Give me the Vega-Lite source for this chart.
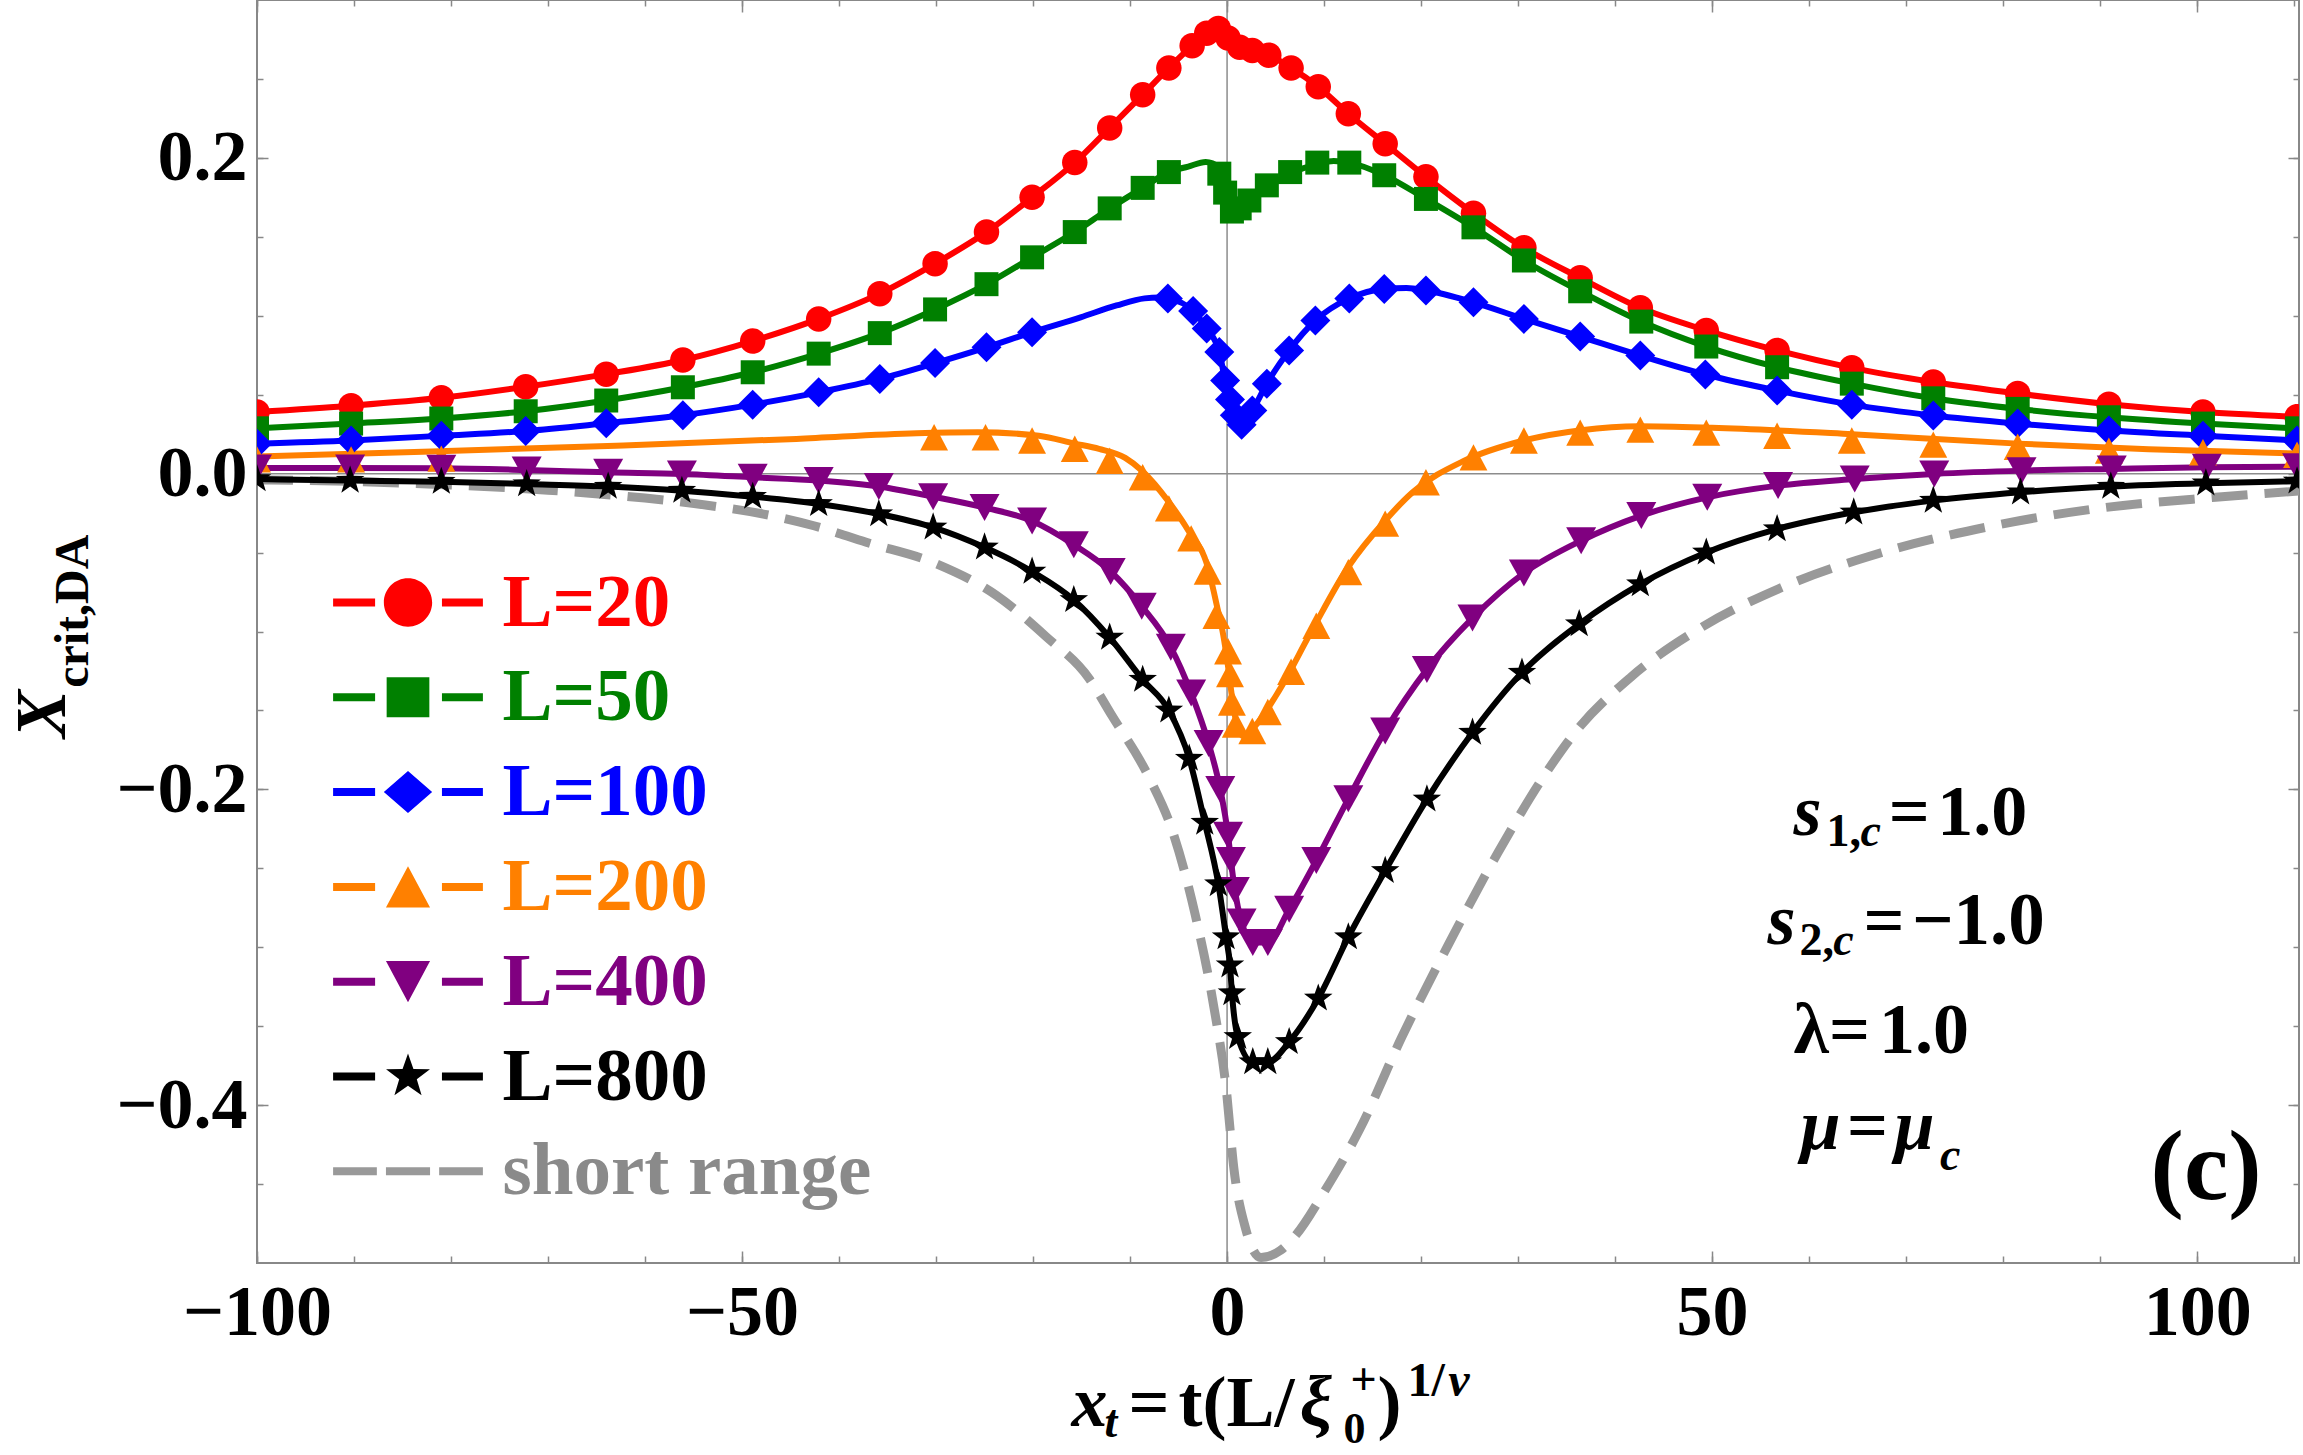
{
  "$schema": "https://vega.github.io/schema/vega-lite/v6.json",
  "width": 2042,
  "height": 1263,
  "autosize": "none",
  "padding": {"left": 257, "top": 0, "right": 4, "bottom": 192},
  "background": "white",
  "config": {"view": {"stroke": "#888888", "strokeWidth": 2}, "font": "Liberation Serif"},
  "datasets": {
    "curves": [
      {"s":"L=20","x":-100,"y":0.039},{"s":"L=20","x":-90.3,"y":0.043},{"s":"L=20","x":-81,"y":0.048},{"s":"L=20","x":-72.3,"y":0.055},{"s":"L=20","x":-64,"y":0.063},{"s":"L=20","x":-56.1,"y":0.072},{"s":"L=20","x":-48.9,"y":0.084},{"s":"L=20","x":-42.1,"y":0.098},{"s":"L=20","x":-35.8,"y":0.114},{"s":"L=20","x":-30.1,"y":0.133},{"s":"L=20","x":-24.8,"y":0.153},{"s":"L=20","x":-20.1,"y":0.175},{"s":"L=20","x":-15.7,"y":0.197},{"s":"L=20","x":-12.1,"y":0.219},{"s":"L=20","x":-8.7,"y":0.240},{"s":"L=20","x":-6.0,"y":0.257},{"s":"L=20","x":-3.6,"y":0.271},{"s":"L=20","x":-2.1,"y":0.279},{"s":"L=20","x":-0.9,"y":0.282},{"s":"L=20","x":0.1,"y":0.276},{"s":"L=20","x":1.3,"y":0.270},{"s":"L=20","x":2.6,"y":0.268},{"s":"L=20","x":4.3,"y":0.265},{"s":"L=20","x":6.6,"y":0.257},{"s":"L=20","x":9.4,"y":0.245},{"s":"L=20","x":12.5,"y":0.228},{"s":"L=20","x":16.3,"y":0.209},{"s":"L=20","x":20.5,"y":0.188},{"s":"L=20","x":25.4,"y":0.165},{"s":"L=20","x":30.6,"y":0.143},{"s":"L=20","x":36.4,"y":0.124},{"s":"L=20","x":42.6,"y":0.105},{"s":"L=20","x":49.4,"y":0.0907},{"s":"L=20","x":56.7,"y":0.078},{"s":"L=20","x":64.4,"y":0.067},{"s":"L=20","x":72.8,"y":0.058},{"s":"L=20","x":81.5,"y":0.0507},{"s":"L=20","x":90.9,"y":0.044},{"s":"L=20","x":100.6,"y":0.039},{"s":"L=20","x":110.3,"y":0.036},

      {"s":"L=50","x":-100,"y":0.0287},{"s":"L=50","x":-90.3,"y":0.0317},{"s":"L=50","x":-81,"y":0.0349},{"s":"L=50","x":-72.3,"y":0.0395},{"s":"L=50","x":-64,"y":0.0463},{"s":"L=50","x":-56.1,"y":0.0547},{"s":"L=50","x":-48.9,"y":0.0642},{"s":"L=50","x":-42.1,"y":0.076},{"s":"L=50","x":-35.8,"y":0.089},{"s":"L=50","x":-30.1,"y":0.104},{"s":"L=50","x":-24.8,"y":0.120},{"s":"L=50","x":-20.1,"y":0.137},{"s":"L=50","x":-15.7,"y":0.153},{"s":"L=50","x":-12.1,"y":0.168},{"s":"L=50","x":-8.7,"y":0.181},{"s":"L=50","x":-6.0,"y":0.191},{"s":"L=50","x":-4.0,"y":0.1945},{"s":"L=50","x":-2.2,"y":0.1974},{"s":"L=50","x":-0.8,"y":0.194},{"s":"L=50","x":-0.1,"y":0.181},{"s":"L=50","x":0.6,"y":0.165},{"s":"L=50","x":1.8,"y":0.170},{"s":"L=50","x":3.3,"y":0.177},{"s":"L=50","x":4.1,"y":0.181},{"s":"L=50","x":6.5,"y":0.190},{"s":"L=50","x":9.3,"y":0.196},{"s":"L=50","x":11,"y":0.198},{"s":"L=50","x":12.6,"y":0.197},{"s":"L=50","x":16.2,"y":0.189},{"s":"L=50","x":20.5,"y":0.174},{"s":"L=50","x":25.4,"y":0.156},{"s":"L=50","x":30.6,"y":0.135},{"s":"L=50","x":36.4,"y":0.1155},{"s":"L=50","x":42.7,"y":0.0963},{"s":"L=50","x":49.4,"y":0.0805},{"s":"L=50","x":56.7,"y":0.0674},{"s":"L=50","x":64.4,"y":0.057},{"s":"L=50","x":72.8,"y":0.0477},{"s":"L=50","x":81.5,"y":0.041},{"s":"L=50","x":90.9,"y":0.0357},{"s":"L=50","x":100.6,"y":0.0317},{"s":"L=50","x":110.3,"y":0.0287},

      {"s":"L=100","x":-100,"y":0.019},{"s":"L=100","x":-90.3,"y":0.021},{"s":"L=100","x":-81,"y":0.024},{"s":"L=100","x":-72.3,"y":0.027},{"s":"L=100","x":-64,"y":0.0319},{"s":"L=100","x":-56.1,"y":0.037},{"s":"L=100","x":-48.9,"y":0.0437},{"s":"L=100","x":-42.1,"y":0.0515},{"s":"L=100","x":-35.8,"y":0.060},{"s":"L=100","x":-30.1,"y":0.070},{"s":"L=100","x":-24.8,"y":0.080},{"s":"L=100","x":-20.1,"y":0.0896},{"s":"L=100","x":-15.1,"y":0.099},{"s":"L=100","x":-11.4,"y":0.1065},{"s":"L=100","x":-8.5,"y":0.111},{"s":"L=100","x":-7.0,"y":0.1115},{"s":"L=100","x":-6.1,"y":0.111},{"s":"L=100","x":-3.5,"y":0.103},{"s":"L=100","x":-2.1,"y":0.092},{"s":"L=100","x":-0.8,"y":0.077},{"s":"L=100","x":-0.2,"y":0.059},{"s":"L=100","x":0.3,"y":0.047},{"s":"L=100","x":0.8,"y":0.037},{"s":"L=100","x":1.4,"y":0.030},{"s":"L=100","x":2.6,"y":0.040},{"s":"L=100","x":4.1,"y":0.057},{"s":"L=100","x":6.4,"y":0.078},{"s":"L=100","x":9.1,"y":0.097},{"s":"L=100","x":12.6,"y":0.111},{"s":"L=100","x":16.2,"y":0.117},{"s":"L=100","x":18.5,"y":0.1175},{"s":"L=100","x":20.5,"y":0.116},{"s":"L=100","x":25.4,"y":0.1085},{"s":"L=100","x":30.6,"y":0.098},{"s":"L=100","x":36.4,"y":0.0868},{"s":"L=100","x":42.6,"y":0.0748},{"s":"L=100","x":49.3,"y":0.0628},{"s":"L=100","x":56.7,"y":0.0526},{"s":"L=100","x":64.4,"y":0.0437},{"s":"L=100","x":72.8,"y":0.0368},{"s":"L=100","x":81.5,"y":0.0317},{"s":"L=100","x":90.9,"y":0.0273},{"s":"L=100","x":100.6,"y":0.024},{"s":"L=100","x":110.3,"y":0.021},

      {"s":"L=200","x":-100,"y":0.0108},{"s":"L=200","x":-82,"y":0.014},{"s":"L=200","x":-63,"y":0.0177},{"s":"L=200","x":-44.4,"y":0.022},{"s":"L=200","x":-32,"y":0.0256},{"s":"L=200","x":-25.7,"y":0.0262},{"s":"L=200","x":-19.4,"y":0.024},{"s":"L=200","x":-15.7,"y":0.019},{"s":"L=200","x":-13.2,"y":0.0157},{"s":"L=200","x":-10.5,"y":0.010},{"s":"L=200","x":-8.8,"y":0.002},{"s":"L=200","x":-6.0,"y":-0.018},{"s":"L=200","x":-4.0,"y":-0.036},{"s":"L=200","x":-2.0,"y":-0.059},{"s":"L=200","x":-1.0,"y":-0.085},{"s":"L=200","x":-0.4,"y":-0.102},{"s":"L=200","x":0.1,"y":-0.122},{"s":"L=200","x":0.5,"y":-0.141},{"s":"L=200","x":0.9,"y":-0.156},{"s":"L=200","x":1.7,"y":-0.1665},{"s":"L=200","x":3.0,"y":-0.159},{"s":"L=200","x":5.4,"y":-0.137},{"s":"L=200","x":8.6,"y":-0.101},{"s":"L=200","x":12.5,"y":-0.059},{"s":"L=200","x":16.4,"y":-0.029},{"s":"L=200","x":19.1,"y":-0.012},{"s":"L=200","x":24.4,"y":0.008},{"s":"L=200","x":30.6,"y":0.021},{"s":"L=200","x":36.5,"y":0.0275},{"s":"L=200","x":42.5,"y":0.030},{"s":"L=200","x":50,"y":0.029},{"s":"L=200","x":64.4,"y":0.025},{"s":"L=200","x":81.5,"y":0.019},{"s":"L=200","x":95,"y":0.0155},{"s":"L=200","x":110.5,"y":0.0127},

      {"s":"L=400","x":-100,"y":0.0036},{"s":"L=400","x":-90.4,"y":0.0036},{"s":"L=400","x":-81,"y":0.0034},{"s":"L=400","x":-72.2,"y":0.0023},{"s":"L=400","x":-63.8,"y":0.0008},{"s":"L=400","x":-56.2,"y":-0.0002},{"s":"L=400","x":-48.9,"y":-0.0023},{"s":"L=400","x":-42.1,"y":-0.0044},{"s":"L=400","x":-35.9,"y":-0.0082},{"s":"L=400","x":-30.3,"y":-0.0146},{"s":"L=400","x":-25.0,"y":-0.0215},{"s":"L=400","x":-20.1,"y":-0.030},{"s":"L=400","x":-15.8,"y":-0.045},{"s":"L=400","x":-12.0,"y":-0.062},{"s":"L=400","x":-8.8,"y":-0.084},{"s":"L=400","x":-5.8,"y":-0.110},{"s":"L=400","x":-3.7,"y":-0.139},{"s":"L=400","x":-1.9,"y":-0.171},{"s":"L=400","x":-0.7,"y":-0.200},{"s":"L=400","x":0.1,"y":-0.229},{"s":"L=400","x":0.4,"y":-0.245},{"s":"L=400","x":0.8,"y":-0.264},{"s":"L=400","x":1.5,"y":-0.284},{"s":"L=400","x":2.65,"y":-0.297},{"s":"L=400","x":4.2,"y":-0.297},{"s":"L=400","x":6.4,"y":-0.276},{"s":"L=400","x":9.2,"y":-0.245},{"s":"L=400","x":12.5,"y":-0.206},{"s":"L=400","x":16.3,"y":-0.163},{"s":"L=400","x":20.6,"y":-0.124},{"s":"L=400","x":25.3,"y":-0.0915},{"s":"L=400","x":30.6,"y":-0.063},{"s":"L=400","x":36.5,"y":-0.0425},{"s":"L=400","x":42.7,"y":-0.0266},{"s":"L=400","x":49.5,"y":-0.015},{"s":"L=400","x":56.8,"y":-0.0076},{"s":"L=400","x":64.7,"y":-0.0034},{"s":"L=400","x":72.9,"y":-0.0002},{"s":"L=400","x":81.9,"y":0.0019},{"s":"L=400","x":91.2,"y":0.003},{"s":"L=400","x":101,"y":0.004},{"s":"L=400","x":110.3,"y":0.0044},

      {"s":"L=800","x":-100,"y":-0.0034},{"s":"L=800","x":-90.4,"y":-0.0044},{"s":"L=800","x":-81,"y":-0.0051},{"s":"L=800","x":-72.2,"y":-0.0066},{"s":"L=800","x":-63.8,"y":-0.0082},{"s":"L=800","x":-56.2,"y":-0.0108},{"s":"L=800","x":-48.9,"y":-0.0146},{"s":"L=800","x":-42.1,"y":-0.0192},{"s":"L=800","x":-35.9,"y":-0.0256},{"s":"L=800","x":-30.3,"y":-0.034},{"s":"L=800","x":-25.0,"y":-0.0467},{"s":"L=800","x":-20.1,"y":-0.062},{"s":"L=800","x":-15.8,"y":-0.080},{"s":"L=800","x":-12.1,"y":-0.1038},{"s":"L=800","x":-8.7,"y":-0.1305},{"s":"L=800","x":-6.0,"y":-0.150},{"s":"L=800","x":-3.9,"y":-0.1805},{"s":"L=800","x":-2.3,"y":-0.221},{"s":"L=800","x":-0.9,"y":-0.260},{"s":"L=800","x":-0.1,"y":-0.2936},{"s":"L=800","x":0.3,"y":-0.3114},{"s":"L=800","x":0.5,"y":-0.329},{"s":"L=800","x":1.1,"y":-0.3567},{"s":"L=800","x":2.65,"y":-0.3727},{"s":"L=800","x":4.2,"y":-0.3727},{"s":"L=800","x":6.4,"y":-0.360},{"s":"L=800","x":9.4,"y":-0.3324},{"s":"L=800","x":12.5,"y":-0.2936},{"s":"L=800","x":16.3,"y":-0.2516},{"s":"L=800","x":20.6,"y":-0.2063},{"s":"L=800","x":25.3,"y":-0.164},{"s":"L=800","x":30.4,"y":-0.126},{"s":"L=800","x":36.3,"y":-0.0953},{"s":"L=800","x":42.6,"y":-0.070},{"s":"L=800","x":49.4,"y":-0.0499},{"s":"L=800","x":56.7,"y":-0.0351},{"s":"L=800","x":64.6,"y":-0.0245},{"s":"L=800","x":72.8,"y":-0.0171},{"s":"L=800","x":81.8,"y":-0.0118},{"s":"L=800","x":91.1,"y":-0.0082},{"s":"L=800","x":100.9,"y":-0.0061},{"s":"L=800","x":110.3,"y":-0.0049},

      {"s":"short range","x":-100,"y":-0.004},{"s":"short range","x":-90,"y":-0.005},{"s":"short range","x":-80,"y":-0.0072},{"s":"short range","x":-70,"y":-0.0105},{"s":"short range","x":-60,"y":-0.0155},{"s":"short range","x":-53.6,"y":-0.020},{"s":"short range","x":-47.8,"y":-0.0256},{"s":"short range","x":-42.6,"y":-0.033},{"s":"short range","x":-37.2,"y":-0.0435},{"s":"short range","x":-30,"y":-0.057},{"s":"short range","x":-23.8,"y":-0.077},{"s":"short range","x":-18.7,"y":-0.103},{"s":"short range","x":-14.2,"y":-0.13},{"s":"short range","x":-11.9,"y":-0.153},{"s":"short range","x":-8,"y":-0.193},{"s":"short range","x":-5.6,"y":-0.227},{"s":"short range","x":-3.3,"y":-0.279},{"s":"short range","x":-1.3,"y":-0.340},{"s":"short range","x":-0.1,"y":-0.389},{"s":"short range","x":0.7,"y":-0.440},{"s":"short range","x":1.9,"y":-0.478},{"s":"short range","x":3.5,"y":-0.4965},{"s":"short range","x":5.5,"y":-0.492},{"s":"short range","x":7.0,"y":-0.483},{"s":"short range","x":10.1,"y":-0.454},{"s":"short range","x":13.7,"y":-0.415},{"s":"short range","x":18.0,"y":-0.357},{"s":"short range","x":22.8,"y":-0.2985},{"s":"short range","x":27.9,"y":-0.2403},{"s":"short range","x":33,"y":-0.1885},{"s":"short range","x":36,"y":-0.163},{"s":"short range","x":41.6,"y":-0.129},{"s":"short range","x":48.9,"y":-0.0974},{"s":"short range","x":56.8,"y":-0.0731},{"s":"short range","x":67,"y":-0.0509},{"s":"short range","x":78.2,"y":-0.034},{"s":"short range","x":90.6,"y":-0.0214},{"s":"short range","x":101.9,"y":-0.015},{"s":"short range","x":110.9,"y":-0.0108}
    ],
    "markers": [
      {"s":"L=20","x":-100,"y":0.039},{"s":"L=20","x":-90.3,"y":0.043},{"s":"L=20","x":-81,"y":0.048},{"s":"L=20","x":-72.3,"y":0.055},{"s":"L=20","x":-64,"y":0.063},{"s":"L=20","x":-56.1,"y":0.072},{"s":"L=20","x":-48.9,"y":0.084},{"s":"L=20","x":-42.1,"y":0.098},{"s":"L=20","x":-35.8,"y":0.114},{"s":"L=20","x":-30.1,"y":0.133},{"s":"L=20","x":-24.8,"y":0.153},{"s":"L=20","x":-20.1,"y":0.175},{"s":"L=20","x":-15.7,"y":0.197},{"s":"L=20","x":-12.1,"y":0.219},{"s":"L=20","x":-8.7,"y":0.240},{"s":"L=20","x":-6.0,"y":0.257},{"s":"L=20","x":-3.6,"y":0.271},{"s":"L=20","x":-2.1,"y":0.279},{"s":"L=20","x":-0.9,"y":0.282},{"s":"L=20","x":0.1,"y":0.276},{"s":"L=20","x":1.3,"y":0.270},{"s":"L=20","x":2.6,"y":0.268},{"s":"L=20","x":4.3,"y":0.265},{"s":"L=20","x":6.6,"y":0.257},{"s":"L=20","x":9.4,"y":0.245},{"s":"L=20","x":12.5,"y":0.228},{"s":"L=20","x":16.3,"y":0.209},{"s":"L=20","x":20.5,"y":0.188},{"s":"L=20","x":25.4,"y":0.165},{"s":"L=20","x":30.6,"y":0.143},{"s":"L=20","x":36.4,"y":0.124},{"s":"L=20","x":42.6,"y":0.105},{"s":"L=20","x":49.4,"y":0.0907},{"s":"L=20","x":56.7,"y":0.078},{"s":"L=20","x":64.4,"y":0.067},{"s":"L=20","x":72.8,"y":0.058},{"s":"L=20","x":81.5,"y":0.0507},{"s":"L=20","x":90.9,"y":0.044},{"s":"L=20","x":100.6,"y":0.039},{"s":"L=20","x":110.3,"y":0.036},

      {"s":"L=50","x":-100,"y":0.0287},{"s":"L=50","x":-90.3,"y":0.0317},{"s":"L=50","x":-81,"y":0.0349},{"s":"L=50","x":-72.3,"y":0.0395},{"s":"L=50","x":-64,"y":0.0463},{"s":"L=50","x":-56.1,"y":0.0547},{"s":"L=50","x":-48.9,"y":0.0642},{"s":"L=50","x":-42.1,"y":0.076},{"s":"L=50","x":-35.8,"y":0.089},{"s":"L=50","x":-30.1,"y":0.104},{"s":"L=50","x":-24.8,"y":0.120},{"s":"L=50","x":-20.1,"y":0.137},{"s":"L=50","x":-15.7,"y":0.153},{"s":"L=50","x":-12.1,"y":0.168},{"s":"L=50","x":-8.7,"y":0.181},{"s":"L=50","x":-6.0,"y":0.191},{"s":"L=50","x":-0.8,"y":0.190},{"s":"L=50","x":-0.2,"y":0.178},{"s":"L=50","x":0.5,"y":0.166},{"s":"L=50","x":1.3,"y":0.168},{"s":"L=50","x":2.3,"y":0.173},{"s":"L=50","x":4.1,"y":0.1826},{"s":"L=50","x":6.5,"y":0.191},{"s":"L=50","x":9.3,"y":0.197},{"s":"L=50","x":12.6,"y":0.197},{"s":"L=50","x":16.2,"y":0.189},{"s":"L=50","x":20.5,"y":0.174},{"s":"L=50","x":25.4,"y":0.156},{"s":"L=50","x":30.6,"y":0.135},{"s":"L=50","x":36.4,"y":0.1155},{"s":"L=50","x":42.7,"y":0.0963},{"s":"L=50","x":49.4,"y":0.0805},{"s":"L=50","x":56.7,"y":0.0674},{"s":"L=50","x":64.4,"y":0.057},{"s":"L=50","x":72.8,"y":0.0477},{"s":"L=50","x":81.5,"y":0.041},{"s":"L=50","x":90.9,"y":0.0357},{"s":"L=50","x":100.6,"y":0.0317},{"s":"L=50","x":110.3,"y":0.0287},

      {"s":"L=100","x":-100,"y":0.019},{"s":"L=100","x":-90.3,"y":0.021},{"s":"L=100","x":-81,"y":0.024},{"s":"L=100","x":-72.3,"y":0.027},{"s":"L=100","x":-64,"y":0.0319},{"s":"L=100","x":-56.1,"y":0.037},{"s":"L=100","x":-48.9,"y":0.0437},{"s":"L=100","x":-42.1,"y":0.0515},{"s":"L=100","x":-35.8,"y":0.060},{"s":"L=100","x":-30.1,"y":0.070},{"s":"L=100","x":-24.8,"y":0.080},{"s":"L=100","x":-20.1,"y":0.0896},{"s":"L=100","x":-6.1,"y":0.111},{"s":"L=100","x":-3.5,"y":0.103},{"s":"L=100","x":-2.1,"y":0.092},{"s":"L=100","x":-0.8,"y":0.077},{"s":"L=100","x":-0.2,"y":0.059},{"s":"L=100","x":0.3,"y":0.047},{"s":"L=100","x":0.8,"y":0.037},{"s":"L=100","x":1.5,"y":0.031},{"s":"L=100","x":2.6,"y":0.040},{"s":"L=100","x":4.1,"y":0.057},{"s":"L=100","x":6.4,"y":0.078},{"s":"L=100","x":9.1,"y":0.097},{"s":"L=100","x":12.6,"y":0.111},{"s":"L=100","x":16.2,"y":0.117},{"s":"L=100","x":20.5,"y":0.116},{"s":"L=100","x":25.4,"y":0.1085},{"s":"L=100","x":30.6,"y":0.098},{"s":"L=100","x":36.4,"y":0.0868},{"s":"L=100","x":42.6,"y":0.0748},{"s":"L=100","x":49.3,"y":0.0628},{"s":"L=100","x":56.7,"y":0.0526},{"s":"L=100","x":64.4,"y":0.0437},{"s":"L=100","x":72.8,"y":0.0368},{"s":"L=100","x":81.5,"y":0.0317},{"s":"L=100","x":90.9,"y":0.0273},{"s":"L=100","x":100.6,"y":0.024},{"s":"L=100","x":110.3,"y":0.021},

      {"s":"L=200","x":-100,"y":0.009},{"s":"L=200","x":-90.3,"y":0.009},{"s":"L=200","x":-81,"y":0.0095},{"s":"L=200","x":-30.2,"y":0.023},{"s":"L=200","x":-24.9,"y":0.023},{"s":"L=200","x":-20.1,"y":0.021},{"s":"L=200","x":-15.7,"y":0.0158},{"s":"L=200","x":-12.1,"y":0.0082},{"s":"L=200","x":-8.7,"y":-0.0023},{"s":"L=200","x":-6.0,"y":-0.022},{"s":"L=200","x":-3.7,"y":-0.041},{"s":"L=200","x":-2.0,"y":-0.062},{"s":"L=200","x":-1.1,"y":-0.090},{"s":"L=200","x":0.1,"y":-0.1125},{"s":"L=200","x":0.3,"y":-0.127},{"s":"L=200","x":0.5,"y":-0.145},{"s":"L=200","x":0.9,"y":-0.159},{"s":"L=200","x":2.6,"y":-0.163},{"s":"L=200","x":4.2,"y":-0.151},{"s":"L=200","x":6.6,"y":-0.1255},{"s":"L=200","x":9.2,"y":-0.0964},{"s":"L=200","x":12.5,"y":-0.0624},{"s":"L=200","x":16.3,"y":-0.0317},{"s":"L=200","x":20.5,"y":-0.0055},{"s":"L=200","x":25.4,"y":0.0103},{"s":"L=200","x":30.6,"y":0.021},{"s":"L=200","x":36.4,"y":0.026},{"s":"L=200","x":42.6,"y":0.0279},{"s":"L=200","x":49.4,"y":0.026},{"s":"L=200","x":56.7,"y":0.024},{"s":"L=200","x":64.4,"y":0.021},{"s":"L=200","x":72.8,"y":0.0184},{"s":"L=200","x":81.5,"y":0.017},{"s":"L=200","x":90.9,"y":0.0146},{"s":"L=200","x":100.6,"y":0.0135},{"s":"L=200","x":110.3,"y":0.012},

      {"s":"L=400","x":-100,"y":0.0036},{"s":"L=400","x":-90.4,"y":0.0036},{"s":"L=400","x":-81,"y":0.0034},{"s":"L=400","x":-72.2,"y":0.0023},{"s":"L=400","x":-63.8,"y":0.0008},{"s":"L=400","x":-56.2,"y":-0.0002},{"s":"L=400","x":-48.9,"y":-0.0023},{"s":"L=400","x":-42.1,"y":-0.0044},{"s":"L=400","x":-35.9,"y":-0.0082},{"s":"L=400","x":-30.3,"y":-0.0146},{"s":"L=400","x":-25.0,"y":-0.0215},{"s":"L=400","x":-20.1,"y":-0.030},{"s":"L=400","x":-15.8,"y":-0.045},{"s":"L=400","x":-12.0,"y":-0.062},{"s":"L=400","x":-8.8,"y":-0.084},{"s":"L=400","x":-5.8,"y":-0.110},{"s":"L=400","x":-3.7,"y":-0.139},{"s":"L=400","x":-1.9,"y":-0.171},{"s":"L=400","x":-0.7,"y":-0.200},{"s":"L=400","x":0.1,"y":-0.229},{"s":"L=400","x":0.4,"y":-0.245},{"s":"L=400","x":0.8,"y":-0.264},{"s":"L=400","x":1.5,"y":-0.284},{"s":"L=400","x":2.65,"y":-0.297},{"s":"L=400","x":4.2,"y":-0.297},{"s":"L=400","x":6.4,"y":-0.276},{"s":"L=400","x":9.2,"y":-0.245},{"s":"L=400","x":12.5,"y":-0.206},{"s":"L=400","x":16.3,"y":-0.163},{"s":"L=400","x":20.6,"y":-0.124},{"s":"L=400","x":25.3,"y":-0.0915},{"s":"L=400","x":30.6,"y":-0.063},{"s":"L=400","x":36.5,"y":-0.0425},{"s":"L=400","x":42.7,"y":-0.0266},{"s":"L=400","x":49.5,"y":-0.015},{"s":"L=400","x":56.8,"y":-0.0076},{"s":"L=400","x":64.7,"y":-0.0034},{"s":"L=400","x":72.9,"y":-0.0002},{"s":"L=400","x":81.9,"y":0.0019},{"s":"L=400","x":91.2,"y":0.003},{"s":"L=400","x":101,"y":0.004},{"s":"L=400","x":110.3,"y":0.0044},

      {"s":"L=800","x":-100,"y":-0.0034},{"s":"L=800","x":-90.4,"y":-0.0044},{"s":"L=800","x":-81,"y":-0.0051},{"s":"L=800","x":-72.2,"y":-0.0066},{"s":"L=800","x":-63.8,"y":-0.0082},{"s":"L=800","x":-56.2,"y":-0.0108},{"s":"L=800","x":-48.9,"y":-0.0146},{"s":"L=800","x":-42.1,"y":-0.0192},{"s":"L=800","x":-35.9,"y":-0.0256},{"s":"L=800","x":-30.3,"y":-0.034},{"s":"L=800","x":-25.0,"y":-0.0467},{"s":"L=800","x":-20.1,"y":-0.062},{"s":"L=800","x":-15.8,"y":-0.080},{"s":"L=800","x":-12.1,"y":-0.1038},{"s":"L=800","x":-8.7,"y":-0.1305},{"s":"L=800","x":-6.0,"y":-0.150},{"s":"L=800","x":-3.9,"y":-0.1805},{"s":"L=800","x":-2.3,"y":-0.221},{"s":"L=800","x":-0.9,"y":-0.260},{"s":"L=800","x":-0.1,"y":-0.2936},{"s":"L=800","x":0.3,"y":-0.3114},{"s":"L=800","x":0.5,"y":-0.329},{"s":"L=800","x":1.1,"y":-0.3567},{"s":"L=800","x":2.65,"y":-0.3727},{"s":"L=800","x":4.2,"y":-0.3727},{"s":"L=800","x":6.4,"y":-0.360},{"s":"L=800","x":9.4,"y":-0.3324},{"s":"L=800","x":12.5,"y":-0.2936},{"s":"L=800","x":16.3,"y":-0.2516},{"s":"L=800","x":20.6,"y":-0.2063},{"s":"L=800","x":25.3,"y":-0.164},{"s":"L=800","x":30.4,"y":-0.126},{"s":"L=800","x":36.3,"y":-0.0953},{"s":"L=800","x":42.6,"y":-0.070},{"s":"L=800","x":49.4,"y":-0.0499},{"s":"L=800","x":56.7,"y":-0.0351},{"s":"L=800","x":64.6,"y":-0.0245},{"s":"L=800","x":72.8,"y":-0.0171},{"s":"L=800","x":81.8,"y":-0.0118},{"s":"L=800","x":91.1,"y":-0.0082},{"s":"L=800","x":100.9,"y":-0.0061},{"s":"L=800","x":110.3,"y":-0.0049}
    ]
  },
  "resolve": {"axis": {"x": "independent", "y": "independent"}},
  "layer": [
    {
      "data": {"values": [{}]},
      "mark": {"type": "rule", "color": "#8c8c8c", "strokeWidth": 1.5},
      "encoding": {
        "x": {"datum": 0, "type": "quantitative", "scale": {"domain": [-100, 110.5], "nice": false, "zero": false},
              "axis": {"orient": "top", "values": [-100, -50, 0, 50, 100], "labels": false, "domain": false, "grid": false, "title": null, "tickSize": -12, "tickWidth": 1.5, "tickColor": "#888888"}}
      }
    },
    {
      "data": {"values": [{}]},
      "mark": {"type": "rule", "color": "#8c8c8c", "strokeWidth": 1.5},
      "encoding": {
        "y": {"datum": 0, "type": "quantitative", "scale": {"domain": [-0.5, 0.3], "nice": false, "zero": false},
              "axis": {"orient": "right", "values": [-0.4, -0.2, 0, 0.2], "labels": false, "domain": false, "grid": false, "title": null, "tickSize": -11, "tickWidth": 1.5, "tickColor": "#888888"}}
      }
    },
    {
      "data": {"name": "curves"},
      "transform": [{"filter": "datum.s === 'short range'"}],
      "mark": {"type": "line", "color": "#999999", "strokeWidth": 9, "strokeDash": [36, 17], "interpolate": "monotone", "clip": true},
      "encoding": {
        "x": {"field": "x", "type": "quantitative", "scale": {"domain": [-100, 110.5], "nice": false, "zero": false},
              "axis": {"orient": "bottom", "values": [-100, -50, 0, 50, 100], "format": "d", "title": null, "domain": false, "grid": false,
                       "tickSize": -12, "tickWidth": 1.5, "tickColor": "#888888",
                       "labelFont": "Liberation Serif", "labelFontSize": 72, "labelFontWeight": "bold", "labelColor": "#000000",
                       "labelPadding": 26, "labelFlush": false, "labelOverlap": false}},
        "y": {"field": "y", "type": "quantitative", "scale": {"domain": [-0.5, 0.3], "nice": false, "zero": false},
              "axis": {"orient": "left", "values": [-0.4, -0.2, 0, 0.2], "format": ".1f", "title": null, "domain": false, "grid": false,
                       "tickSize": -11, "tickWidth": 1.5, "tickColor": "#888888",
                       "labelFont": "Liberation Serif", "labelFontSize": 72, "labelFontWeight": "bold", "labelColor": "#000000",
                       "labelPadding": 21, "labelFlush": false, "labelOverlap": false}}
      }
    },
    {
      "data": {"name": "curves"},
      "transform": [{"filter": "datum.s !== 'short range'"}],
      "mark": {"type": "line", "interpolate": "monotone", "clip": true},
      "encoding": {
        "x": {"field": "x", "type": "quantitative", "scale": {"domain": [-100, 110.5], "nice": false, "zero": false},
              "axis": {"orient": "bottom", "values": [-100, -90, -80, -70, -60, -50, -40, -30, -20, -10, 0, 10, 20, 30, 40, 50, 60, 70, 80, 90, 100, 110],
                       "labels": false, "domain": false, "grid": false, "title": null, "tickSize": -7, "tickWidth": 1.5, "tickColor": "#888888"}},
        "y": {"field": "y", "type": "quantitative", "scale": {"domain": [-0.5, 0.3], "nice": false, "zero": false},
              "axis": {"orient": "left", "values": [-0.45, -0.4, -0.35, -0.3, -0.25, -0.2, -0.15, -0.1, -0.05, 0, 0.05, 0.1, 0.15, 0.2, 0.25],
                       "labels": false, "domain": false, "grid": false, "title": null, "tickSize": -6, "tickWidth": 1.5, "tickColor": "#888888"}},
        "strokeWidth": {"field": "s", "type": "nominal", "legend": null,
                        "scale": {"domain": ["L=20", "L=50", "L=100", "L=200", "L=400", "L=800"], "range": [6, 6, 6, 6, 5, 4.5]}},
        "color": {"field": "s", "type": "nominal",
                  "scale": {"domain": ["L=20", "L=50", "L=100", "L=200", "L=400", "L=800", "short range"],
                            "range": ["#ff0000", "#008000", "#0000ff", "#ff8000", "#800080", "#000000", "#999999"]},
                  "legend": {
                    "orient": "none", "legendX": 113.5, "legendY": 565, "direction": "vertical",
                    "title": null, "padding": 0, "rowPadding": 18.8,
                    "symbolSize": 4900, "symbolStrokeWidth": 0, "symbolOffset": 0,
                    "labelFont": "Liberation Serif", "labelFontSize": 75, "labelFontWeight": "bold",
                    "labelOffset": 57, "labelLimit": 900,
                    "encode": {
                      "symbols": {
                        "update": {
                          "shape": [
                            {"test": "datum.value === 'L=20'", "value": "M-2.14,-0.115H-0.94V0.115H-2.14ZM0.97,-0.115H2.14V0.115H0.97ZM-0.69,0A0.69,0.69 0 1,0 0.69,0A0.69,0.69 0 1,0 -0.69,0Z"},
                            {"test": "datum.value === 'L=50'", "value": "M-2.14,-0.115H-0.94V0.115H-2.14ZM0.97,-0.115H2.14V0.115H0.97ZM-0.61,-0.57H0.61V0.57H-0.61Z"},
                            {"test": "datum.value === 'L=100'", "value": "M-2.14,-0.115H-0.94V0.115H-2.14ZM0.97,-0.115H2.14V0.115H0.97ZM0,-0.6L0.69,0L0,0.6L-0.69,0Z"},
                            {"test": "datum.value === 'L=200'", "value": "M-2.14,-0.115H-0.94V0.115H-2.14ZM0.97,-0.115H2.14V0.115H0.97ZM0,-0.59L0.63,0.59L-0.63,0.59Z"},
                            {"test": "datum.value === 'L=400'", "value": "M-2.14,-0.115H-0.94V0.115H-2.14ZM0.97,-0.115H2.14V0.115H0.97ZM0,0.59L0.63,-0.59L-0.63,-0.59Z"},
                            {"test": "datum.value === 'L=800'", "value": "M-2.14,-0.115H-0.94V0.115H-2.14ZM0.97,-0.115H2.14V0.115H0.97ZM0,-0.66L0.155,-0.214L0.628,-0.204L0.251,0.082L0.388,0.534L0,0.264L-0.388,0.534L-0.251,0.082L-0.628,-0.204L-0.155,-0.214Z"},
                            {"value": "M-2.14,-0.115H-0.89V0.115H-2.14ZM-0.63,-0.115H0.63V0.115H-0.63ZM0.89,-0.115H2.14V0.115H0.89Z"}
                          ],
                          "fill": [
                            {"test": "datum.value === 'L=20'", "value": "#ff0000"},
                            {"test": "datum.value === 'L=50'", "value": "#008000"},
                            {"test": "datum.value === 'L=100'", "value": "#0000ff"},
                            {"test": "datum.value === 'L=200'", "value": "#ff8000"},
                            {"test": "datum.value === 'L=400'", "value": "#800080"},
                            {"test": "datum.value === 'L=800'", "value": "#000000"},
                            {"value": "#999999"}
                          ],
                          "fillOpacity": {"value": 1},
                          "opacity": {"value": 1},
                          "stroke": {"value": "transparent"},
                          "strokeWidth": {"value": 0}
                        }
                      },
                      "labels": {
                        "update": {
                          "fill": [
                            {"test": "datum.value === 'L=20'", "value": "#ff0000"},
                            {"test": "datum.value === 'L=50'", "value": "#008000"},
                            {"test": "datum.value === 'L=100'", "value": "#0000ff"},
                            {"test": "datum.value === 'L=200'", "value": "#ff8000"},
                            {"test": "datum.value === 'L=400'", "value": "#800080"},
                            {"test": "datum.value === 'L=800'", "value": "#000000"},
                            {"value": "#8a8a8a"}
                          ]
                        }
                      }
                    }
                  }}
      }
    },
    {
      "data": {"name": "markers"},
      "mark": {"type": "point", "filled": true, "opacity": 1, "size": 900, "strokeWidth": 0, "clip": true},
      "encoding": {
        "x": {"field": "x", "type": "quantitative", "scale": {"domain": [-100, 110.5], "nice": false, "zero": false},
              "axis": {"orient": "top", "values": [-100, -90, -80, -70, -60, -50, -40, -30, -20, -10, 0, 10, 20, 30, 40, 50, 60, 70, 80, 90, 100, 110],
                       "labels": false, "domain": false, "grid": false, "title": null, "tickSize": -6, "tickWidth": 1.5, "tickColor": "#888888"}},
        "y": {"field": "y", "type": "quantitative", "scale": {"domain": [-0.5, 0.3], "nice": false, "zero": false},
              "axis": {"orient": "right", "values": [-0.45, -0.4, -0.35, -0.3, -0.25, -0.2, -0.15, -0.1, -0.05, 0, 0.05, 0.1, 0.15, 0.2, 0.25],
                       "labels": false, "domain": false, "grid": false, "title": null, "tickSize": -6, "tickWidth": 1.5, "tickColor": "#888888"}},
        "color": {"field": "s", "type": "nominal", "legend": null,
                  "scale": {"domain": ["L=20", "L=50", "L=100", "L=200", "L=400", "L=800", "short range"],
                            "range": ["#ff0000", "#008000", "#0000ff", "#ff8000", "#800080", "#000000", "#999999"]}},
        "shape": {"field": "s", "type": "nominal", "legend": null,
                  "scale": {"domain": ["L=20", "L=50", "L=100", "L=200", "L=400", "L=800"],
                            "range": [
                              "M-0.85,0A0.85,0.85 0 1,0 0.85,0A0.85,0.85 0 1,0 -0.85,0Z",
                              "M-0.8,-0.8H0.8V0.8H-0.8Z",
                              "M0,-1L1,0L0,1L-1,0Z",
                              "M0,-0.88L0.93,0.88L-0.93,0.88Z",
                              "M0,0.9L1,-0.9L-1,-0.9Z",
                              "M0,-1L0.235,-0.324L0.951,-0.309L0.38,0.124L0.588,0.809L0,0.4L-0.588,0.809L-0.38,0.124L-0.951,-0.309L-0.235,-0.324Z"
                            ]}}
      }
    },
    {
      "data": {"values": [{}]},
      "mark": {"type": "text", "text": "X", "font": "Liberation Serif", "fontSize": 72, "fontWeight": "bold", "fontStyle": "italic", "angle": 270, "align": "left", "baseline": "alphabetic", "color": "#000000"},
      "encoding": {
        "x": {"datum": -119.75, "type": "quantitative", "scale": {"domain": [-100, 110.5]}, "axis": null},
        "y": {"datum": -0.1674, "type": "quantitative", "scale": {"domain": [-0.5, 0.3]}, "axis": null}
      }
    },
    {
      "data": {"values": [{}]},
      "mark": {"type": "text", "text": "crit,DA", "font": "Liberation Serif", "fontSize": 48, "fontWeight": "bold", "angle": 270, "align": "left", "baseline": "alphabetic", "color": "#000000"},
      "encoding": {
        "x": {"datum": -117.4, "type": "quantitative", "scale": {"domain": [-100, 110.5]}, "axis": null},
        "y": {"datum": -0.1357, "type": "quantitative", "scale": {"domain": [-0.5, 0.3]}, "axis": null}
      }
    },
    {
      "data": {"values": [{}]},
      "mark": {"type": "text", "text": "x", "font": "Liberation Serif", "fontSize": 72, "fontWeight": "bold", "fontStyle": "italic", "align": "left", "baseline": "alphabetic", "color": "#000000"},
      "encoding": {
        "x": {"datum": -16.04, "type": "quantitative", "scale": {"domain": [-100, 110.5]}, "axis": null},
        "y": {"datum": -0.6035, "type": "quantitative", "scale": {"domain": [-0.5, 0.3]}, "axis": null}
      }
    },
    {
      "data": {"values": [{}]},
      "mark": {"type": "text", "text": "t", "font": "Liberation Serif", "fontSize": 46, "fontWeight": "bold", "fontStyle": "italic", "align": "left", "baseline": "alphabetic", "color": "#000000"},
      "encoding": {
        "x": {"datum": -12.64, "type": "quantitative", "scale": {"domain": [-100, 110.5]}, "axis": null},
        "y": {"datum": -0.6104, "type": "quantitative", "scale": {"domain": [-0.5, 0.3]}, "axis": null}
      }
    },
    {
      "data": {"values": [{}]},
      "mark": {"type": "text", "text": "=", "font": "Liberation Serif", "fontSize": 72, "fontWeight": "bold", "align": "left", "baseline": "alphabetic", "color": "#000000"},
      "encoding": {
        "x": {"datum": -10.16, "type": "quantitative", "scale": {"domain": [-100, 110.5]}, "axis": null},
        "y": {"datum": -0.6035, "type": "quantitative", "scale": {"domain": [-0.5, 0.3]}, "axis": null}
      }
    },
    {
      "data": {"values": [{}]},
      "mark": {"type": "text", "text": "t(L/", "font": "Liberation Serif", "fontSize": 72, "fontWeight": "bold", "align": "left", "baseline": "alphabetic", "color": "#000000"},
      "encoding": {
        "x": {"datum": -5.01, "type": "quantitative", "scale": {"domain": [-100, 110.5]}, "axis": null},
        "y": {"datum": -0.6035, "type": "quantitative", "scale": {"domain": [-0.5, 0.3]}, "axis": null}
      }
    },
    {
      "data": {"values": [{}]},
      "mark": {"type": "text", "text": "ξ", "font": "Liberation Serif", "fontSize": 72, "fontWeight": "bold", "fontStyle": "italic", "align": "left", "baseline": "alphabetic", "color": "#000000"},
      "encoding": {
        "x": {"datum": 7.5, "type": "quantitative", "scale": {"domain": [-100, 110.5]}, "axis": null},
        "y": {"datum": -0.6035, "type": "quantitative", "scale": {"domain": [-0.5, 0.3]}, "axis": null}
      }
    },
    {
      "data": {"values": [{}]},
      "mark": {"type": "text", "text": "0", "font": "Liberation Serif", "fontSize": 44, "fontWeight": "bold", "align": "left", "baseline": "alphabetic", "color": "#000000"},
      "encoding": {
        "x": {"datum": 12.0, "type": "quantitative", "scale": {"domain": [-100, 110.5]}, "axis": null},
        "y": {"datum": -0.6143, "type": "quantitative", "scale": {"domain": [-0.5, 0.3]}, "axis": null}
      }
    },
    {
      "data": {"values": [{}]},
      "mark": {"type": "text", "text": "+", "font": "Liberation Serif", "fontSize": 46, "fontWeight": "bold", "align": "left", "baseline": "alphabetic", "color": "#000000"},
      "encoding": {
        "x": {"datum": 12.72, "type": "quantitative", "scale": {"domain": [-100, 110.5]}, "axis": null},
        "y": {"datum": -0.5838, "type": "quantitative", "scale": {"domain": [-0.5, 0.3]}, "axis": null}
      }
    },
    {
      "data": {"values": [{}]},
      "mark": {"type": "text", "text": ")", "font": "Liberation Serif", "fontSize": 72, "fontWeight": "bold", "align": "left", "baseline": "alphabetic", "color": "#000000"},
      "encoding": {
        "x": {"datum": 15.5, "type": "quantitative", "scale": {"domain": [-100, 110.5]}, "axis": null},
        "y": {"datum": -0.6035, "type": "quantitative", "scale": {"domain": [-0.5, 0.3]}, "axis": null}
      }
    },
    {
      "data": {"values": [{}]},
      "mark": {"type": "text", "text": "1/", "font": "Liberation Serif", "fontSize": 48, "fontWeight": "bold", "align": "left", "baseline": "alphabetic", "color": "#000000"},
      "encoding": {
        "x": {"datum": 18.6, "type": "quantitative", "scale": {"domain": [-100, 110.5]}, "axis": null},
        "y": {"datum": -0.5845, "type": "quantitative", "scale": {"domain": [-0.5, 0.3]}, "axis": null}
      }
    },
    {
      "data": {"values": [{}]},
      "mark": {"type": "text", "text": "ν", "font": "Liberation Serif", "fontSize": 48, "fontWeight": "bold", "fontStyle": "italic", "align": "left", "baseline": "alphabetic", "color": "#000000"},
      "encoding": {
        "x": {"datum": 22.8, "type": "quantitative", "scale": {"domain": [-100, 110.5]}, "axis": null},
        "y": {"datum": -0.5845, "type": "quantitative", "scale": {"domain": [-0.5, 0.3]}, "axis": null}
      }
    },
    {
      "data": {"values": [{}]},
      "mark": {"type": "text", "text": "s", "font": "Liberation Serif", "fontSize": 72, "fontWeight": "bold", "fontStyle": "italic", "align": "left", "baseline": "alphabetic", "color": "#000000"},
      "encoding": {
        "x": {"datum": 58.4, "type": "quantitative", "scale": {"domain": [-100, 110.5]}, "axis": null},
        "y": {"datum": -0.2288, "type": "quantitative", "scale": {"domain": [-0.5, 0.3]}, "axis": null}
      }
    },
    {
      "data": {"values": [{}]},
      "mark": {"type": "text", "text": "1,", "font": "Liberation Serif", "fontSize": 46, "fontWeight": "bold", "align": "left", "baseline": "alphabetic", "color": "#000000"},
      "encoding": {
        "x": {"datum": 61.8, "type": "quantitative", "scale": {"domain": [-100, 110.5]}, "axis": null},
        "y": {"datum": -0.2358, "type": "quantitative", "scale": {"domain": [-0.5, 0.3]}, "axis": null}
      }
    },
    {
      "data": {"values": [{}]},
      "mark": {"type": "text", "text": "c", "font": "Liberation Serif", "fontSize": 46, "fontWeight": "bold", "fontStyle": "italic", "align": "left", "baseline": "alphabetic", "color": "#000000"},
      "encoding": {
        "x": {"datum": 65.3, "type": "quantitative", "scale": {"domain": [-100, 110.5]}, "axis": null},
        "y": {"datum": -0.2358, "type": "quantitative", "scale": {"domain": [-0.5, 0.3]}, "axis": null}
      }
    },
    {
      "data": {"values": [{}]},
      "mark": {"type": "text", "text": "=", "font": "Liberation Serif", "fontSize": 72, "fontWeight": "bold", "align": "left", "baseline": "alphabetic", "color": "#000000"},
      "encoding": {
        "x": {"datum": 68.2, "type": "quantitative", "scale": {"domain": [-100, 110.5]}, "axis": null},
        "y": {"datum": -0.2288, "type": "quantitative", "scale": {"domain": [-0.5, 0.3]}, "axis": null}
      }
    },
    {
      "data": {"values": [{}]},
      "mark": {"type": "text", "text": "1.0", "font": "Liberation Serif", "fontSize": 72, "fontWeight": "bold", "align": "left", "baseline": "alphabetic", "color": "#000000"},
      "encoding": {
        "x": {"datum": 73.2, "type": "quantitative", "scale": {"domain": [-100, 110.5]}, "axis": null},
        "y": {"datum": -0.2288, "type": "quantitative", "scale": {"domain": [-0.5, 0.3]}, "axis": null}
      }
    },
    {
      "data": {"values": [{}]},
      "mark": {"type": "text", "text": "s", "font": "Liberation Serif", "fontSize": 72, "fontWeight": "bold", "fontStyle": "italic", "align": "left", "baseline": "alphabetic", "color": "#000000"},
      "encoding": {
        "x": {"datum": 55.7, "type": "quantitative", "scale": {"domain": [-100, 110.5]}, "axis": null},
        "y": {"datum": -0.2979, "type": "quantitative", "scale": {"domain": [-0.5, 0.3]}, "axis": null}
      }
    },
    {
      "data": {"values": [{}]},
      "mark": {"type": "text", "text": "2,", "font": "Liberation Serif", "fontSize": 46, "fontWeight": "bold", "align": "left", "baseline": "alphabetic", "color": "#000000"},
      "encoding": {
        "x": {"datum": 59.0, "type": "quantitative", "scale": {"domain": [-100, 110.5]}, "axis": null},
        "y": {"datum": -0.3049, "type": "quantitative", "scale": {"domain": [-0.5, 0.3]}, "axis": null}
      }
    },
    {
      "data": {"values": [{}]},
      "mark": {"type": "text", "text": "c", "font": "Liberation Serif", "fontSize": 46, "fontWeight": "bold", "fontStyle": "italic", "align": "left", "baseline": "alphabetic", "color": "#000000"},
      "encoding": {
        "x": {"datum": 62.5, "type": "quantitative", "scale": {"domain": [-100, 110.5]}, "axis": null},
        "y": {"datum": -0.3049, "type": "quantitative", "scale": {"domain": [-0.5, 0.3]}, "axis": null}
      }
    },
    {
      "data": {"values": [{}]},
      "mark": {"type": "text", "text": "=", "font": "Liberation Serif", "fontSize": 72, "fontWeight": "bold", "align": "left", "baseline": "alphabetic", "color": "#000000"},
      "encoding": {
        "x": {"datum": 65.6, "type": "quantitative", "scale": {"domain": [-100, 110.5]}, "axis": null},
        "y": {"datum": -0.2979, "type": "quantitative", "scale": {"domain": [-0.5, 0.3]}, "axis": null}
      }
    },
    {
      "data": {"values": [{}]},
      "mark": {"type": "text", "text": "−1.0", "font": "Liberation Serif", "fontSize": 73, "fontWeight": "bold", "align": "left", "baseline": "alphabetic", "color": "#000000"},
      "encoding": {
        "x": {"datum": 70.6, "type": "quantitative", "scale": {"domain": [-100, 110.5]}, "axis": null},
        "y": {"datum": -0.2979, "type": "quantitative", "scale": {"domain": [-0.5, 0.3]}, "axis": null}
      }
    },
    {
      "data": {"values": [{}]},
      "mark": {"type": "text", "text": "λ=", "font": "Liberation Serif", "fontSize": 72, "fontWeight": "bold", "align": "left", "baseline": "alphabetic", "color": "#000000"},
      "encoding": {
        "x": {"datum": 58.4, "type": "quantitative", "scale": {"domain": [-100, 110.5]}, "axis": null},
        "y": {"datum": -0.367, "type": "quantitative", "scale": {"domain": [-0.5, 0.3]}, "axis": null}
      }
    },
    {
      "data": {"values": [{}]},
      "mark": {"type": "text", "text": "1.0", "font": "Liberation Serif", "fontSize": 72, "fontWeight": "bold", "align": "left", "baseline": "alphabetic", "color": "#000000"},
      "encoding": {
        "x": {"datum": 67.2, "type": "quantitative", "scale": {"domain": [-100, 110.5]}, "axis": null},
        "y": {"datum": -0.367, "type": "quantitative", "scale": {"domain": [-0.5, 0.3]}, "axis": null}
      }
    },
    {
      "data": {"values": [{}]},
      "mark": {"type": "text", "text": "μ", "font": "Liberation Serif", "fontSize": 72, "fontWeight": "bold", "fontStyle": "italic", "align": "left", "baseline": "alphabetic", "color": "#000000"},
      "encoding": {
        "x": {"datum": 59.1, "type": "quantitative", "scale": {"domain": [-100, 110.5]}, "axis": null},
        "y": {"datum": -0.4279, "type": "quantitative", "scale": {"domain": [-0.5, 0.3]}, "axis": null}
      }
    },
    {
      "data": {"values": [{}]},
      "mark": {"type": "text", "text": "=", "font": "Liberation Serif", "fontSize": 72, "fontWeight": "bold", "align": "left", "baseline": "alphabetic", "color": "#000000"},
      "encoding": {
        "x": {"datum": 63.9, "type": "quantitative", "scale": {"domain": [-100, 110.5]}, "axis": null},
        "y": {"datum": -0.4279, "type": "quantitative", "scale": {"domain": [-0.5, 0.3]}, "axis": null}
      }
    },
    {
      "data": {"values": [{}]},
      "mark": {"type": "text", "text": "μ", "font": "Liberation Serif", "fontSize": 72, "fontWeight": "bold", "fontStyle": "italic", "align": "left", "baseline": "alphabetic", "color": "#000000"},
      "encoding": {
        "x": {"datum": 68.8, "type": "quantitative", "scale": {"domain": [-100, 110.5]}, "axis": null},
        "y": {"datum": -0.4279, "type": "quantitative", "scale": {"domain": [-0.5, 0.3]}, "axis": null}
      }
    },
    {
      "data": {"values": [{}]},
      "mark": {"type": "text", "text": "c", "font": "Liberation Serif", "fontSize": 46, "fontWeight": "bold", "fontStyle": "italic", "align": "left", "baseline": "alphabetic", "color": "#000000"},
      "encoding": {
        "x": {"datum": 73.5, "type": "quantitative", "scale": {"domain": [-100, 110.5]}, "axis": null},
        "y": {"datum": -0.4412, "type": "quantitative", "scale": {"domain": [-0.5, 0.3]}, "axis": null}
      }
    },
    {
      "data": {"values": [{}]},
      "mark": {"type": "text", "text": "(c)", "font": "Liberation Serif", "fontSize": 100, "fontWeight": "bold", "align": "left", "baseline": "alphabetic", "color": "#000000"},
      "encoding": {
        "x": {"datum": 95.2, "type": "quantitative", "scale": {"domain": [-100, 110.5]}, "axis": null},
        "y": {"datum": -0.4596, "type": "quantitative", "scale": {"domain": [-0.5, 0.3]}, "axis": null}
      }
    }
  ]
}
